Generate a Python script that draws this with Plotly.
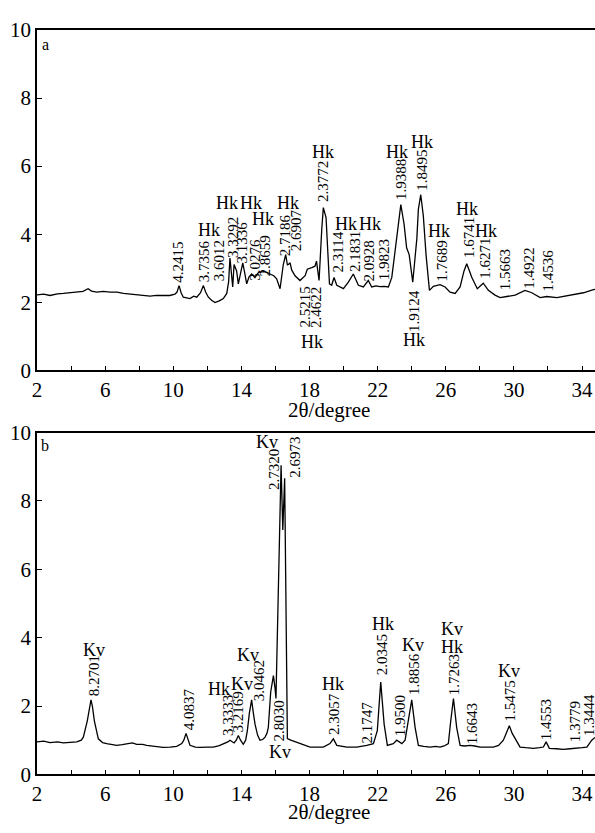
import plotly.graph_objects as go

# ---------------- data: panel a ----------------
a_x = [2.0, 2.4, 2.76, 3.2, 3.55, 4.0, 4.33, 4.7, 5.0, 5.2, 5.5, 5.9, 6.29, 6.7, 7.07, 7.5, 7.85,
       8.2, 8.64, 9.0, 9.42, 9.8, 10.1, 10.22, 10.34, 10.46, 10.59, 10.98, 11.2, 11.38, 11.6, 11.77,
       11.9, 12.06, 12.25, 12.45, 12.7, 12.94, 13.14, 13.25, 13.33, 13.41, 13.49, 13.57, 13.65, 13.72,
       13.82, 13.95, 14.08, 14.2, 14.31, 14.45, 14.6, 14.8, 15.0, 15.29, 15.5, 15.68, 15.9, 16.07,
       16.27, 16.46, 16.6, 16.7, 16.76, 16.86, 16.95, 17.15, 17.44, 17.74, 17.87, 18.13, 18.32, 18.41,
       18.56, 18.72, 18.81, 18.97, 19.17, 19.3, 19.44, 19.6, 19.99, 20.28, 20.57, 20.87, 21.16, 21.45,
       21.65, 21.9, 22.14, 22.4, 22.63, 22.83, 23.12, 23.36, 23.55, 23.7, 23.85, 24.06, 24.3, 24.39,
       24.53, 24.68, 24.84, 25.04, 25.27, 25.66, 25.96, 26.25, 26.55, 26.84, 27.07, 27.23, 27.53,
       27.85, 28.2, 28.5, 28.89, 29.19, 29.58, 30.07, 30.65, 31.05, 31.54, 31.93, 32.52, 33.3, 34.08,
       34.67, 34.76]
a_y = [2.22, 2.24, 2.2, 2.25, 2.26, 2.29, 2.3, 2.32, 2.4, 2.33, 2.3, 2.32, 2.3, 2.3, 2.26, 2.24, 2.21,
       2.2, 2.18, 2.2, 2.21, 2.2, 2.24, 2.3, 2.49, 2.28, 2.15, 2.11, 2.18, 2.15, 2.28, 2.49,
       2.3, 2.15, 2.06, 1.99, 2.04, 2.11, 2.26, 2.6, 3.3, 2.85, 2.45, 3.11, 3.0, 2.92,
       2.54, 2.9, 3.16, 2.85, 2.54, 2.75, 2.83, 2.73, 2.87, 2.9, 2.88, 2.83, 2.78, 2.69,
       2.4, 3.11, 3.4, 3.1, 3.11, 3.16, 2.95, 2.78, 2.64, 2.78, 2.97, 3.02, 3.06, 3.21,
       2.64, 4.16, 4.78, 4.49, 2.54, 2.5, 2.73, 2.5, 2.4, 2.59, 2.83, 2.5, 2.45, 2.64,
       2.45, 2.48, 2.46, 2.47, 2.45, 2.73, 3.87, 4.87, 4.3, 3.6, 3.4, 2.59, 3.87, 4.73,
       5.16, 4.54, 3.4, 2.35, 2.47, 2.52, 2.45, 2.3, 2.26, 2.45, 2.92, 3.13, 2.73,
       2.4, 2.56, 2.35, 2.21, 2.14, 2.17, 2.21, 2.35, 2.28, 2.14, 2.17, 2.14, 2.21, 2.28,
       2.37, 2.38]

# ---------------- data: panel b ----------------
b_x = [2.0, 2.4, 2.76, 3.2, 3.55, 4.0, 4.33, 4.6, 4.72, 4.95, 5.1, 5.17, 5.25, 5.37, 5.6, 5.85, 6.09,
       6.4, 6.68, 7.0, 7.27, 7.6, 7.85, 8.2, 8.44, 8.8, 9.03, 9.4, 9.81, 10.2, 10.5, 10.62, 10.75,
       10.86, 10.98, 11.3, 11.57, 12.0, 12.35, 12.7, 13.04, 13.2, 13.33, 13.45, 13.57, 13.7, 13.82,
       13.95, 14.11, 14.25, 14.35, 14.47, 14.6, 14.7, 14.8, 14.95, 15.09, 15.25, 15.39, 15.5, 15.58,
       15.72, 15.88, 15.98, 16.03, 16.33, 16.43, 16.54, 16.7, 16.9, 17.44, 18.03, 18.4, 18.81, 19.2,
       19.4, 19.6, 20.19, 20.77, 21.1, 21.36, 21.75, 21.98, 22.18, 22.38, 22.57, 22.92, 23.12, 23.25,
       23.42, 23.61, 23.86, 24.0, 24.2, 24.39, 24.7, 25.08, 25.4, 25.66, 25.9, 26.15, 26.29, 26.45,
       26.64, 26.84, 27.1, 27.43, 27.7, 28.01, 28.4, 28.79, 29.1, 29.38, 29.55, 29.73, 29.9, 30.07,
       30.36, 30.7, 31.14, 31.5, 31.73, 31.89, 32.08, 32.5, 32.9, 33.3, 33.69, 34.0, 34.28, 34.57,
       34.76]
b_y = [0.95, 0.97, 0.93, 0.95, 0.92, 0.93, 0.95, 1.0, 1.09, 1.56, 2.0, 2.18, 2.0, 1.56, 1.04, 0.93, 0.9,
       0.88, 0.85, 0.87, 0.9, 0.92, 0.88, 0.88, 0.85, 0.82, 0.8, 0.79, 0.8, 0.82, 0.9, 1.0, 1.2,
       1.0, 0.85, 0.8, 0.79, 0.8, 0.8, 0.84, 0.9, 0.95, 1.0, 0.95, 0.92, 1.0, 1.14,
       1.0, 0.88, 1.0, 1.28, 1.8, 2.18, 1.8, 1.47, 1.15, 1.0, 1.02, 1.09, 1.2, 1.37,
       2.41, 2.89, 2.5, 2.22, 9.04, 7.15, 8.66, 1.05, 1.0, 0.9, 0.8, 0.8, 0.8, 0.9,
       1.04, 0.85, 0.8, 0.8, 0.82, 0.85, 0.9, 1.28, 2.7, 1.47, 0.85, 0.9, 1.0, 0.95,
       0.9, 1.0, 1.75, 2.18, 1.37, 0.85, 0.82, 0.8, 0.82, 0.8, 0.83, 0.9, 1.56, 2.22,
       1.37, 0.85, 0.83, 0.85, 0.83, 0.8, 0.8, 0.8, 0.85, 1.0, 1.2, 1.42, 1.2, 1.04,
       0.8, 0.78, 0.76, 0.78, 0.8, 0.95, 0.76, 0.75, 0.73, 0.75, 0.76, 0.78, 0.8, 1.0,
       1.08]

# ---------------- labels ----------------
a_num_text = ["4.2415", "3.7356", "3.6012", "3.3292", "3.1336", "3.0276", "2.8659", "2.7186",
              "2.6907", "2.3772", "2.5215", "2.4622", "2.3114", "2.1831", "2.0928", "1.9823",
              "1.9388", "1.8495", "1.9124", "1.7689", "1.6741", "1.6271", "1.5663", "1.4922", "1.4536"]
a_num_x = [10.3, 11.77, 12.65, 13.47, 14.06, 14.8, 15.39, 16.56, 17.25, 18.78, 17.74, 18.42, 19.69,
           20.67, 21.51, 22.38, 23.41, 24.59, 24.14, 25.76, 27.33, 28.31, 29.48, 30.91, 32.02]
a_num_y = [3.17, 3.22, 3.22, 3.9, 3.77, 3.25, 3.35, 3.97, 4.11, 5.56, 1.85, 1.85, 3.47,
           3.48, 3.21, 3.24, 5.61, 5.89, 1.75, 3.22, 3.9, 3.28, 2.94, 3.0, 2.94]
a_phase_text = ["Hk"] * 15
a_phase_x = [12.12, 13.14, 14.55, 15.29, 16.76, 18.78, 18.13, 20.14, 21.55, 23.16, 24.59, 24.14,
             25.62, 27.23, 28.37]
a_phase_y = [4.11, 4.92, 4.92, 4.44, 4.92, 6.42, 0.83, 4.3, 4.3, 6.42, 6.7, 0.88, 4.08, 4.74, 4.08]

b_num_text = ["8.2701", "4.0837", "3.3333", "3.2169", "3.0462", "2.8030", "2.7320", "2.6973",
              "2.3057", "2.1747", "2.0345", "1.9500", "1.8856", "1.7263", "1.6643", "1.5475",
              "1.4553", "1.3779", "1.3444"]
b_num_x = [5.35, 10.89, 13.2, 13.82, 15.0, 16.23, 15.92, 17.15, 19.4, 21.4, 22.3, 23.31, 24.1,
           26.45, 27.58, 29.77, 31.89, 33.59, 34.45]
b_num_y = [2.87, 1.92, 1.73, 1.82, 2.74, 1.56, 8.91, 9.26, 1.78, 1.53, 3.51, 1.73, 2.95,
           2.91, 1.49, 2.13, 1.59, 1.53, 1.73]
b_phase_text = ["Kv", "Hk", "Kv", "Kv", "Kv", "Kv", "Hk", "Hk", "Kv", "Kv", "Hk", "Kv"]
b_phase_x = [5.35, 12.7, 14.02, 14.41, 16.27, 15.49, 19.36, 22.33, 24.1, 26.35, 26.39, 29.73]
b_phase_y = [3.64, 2.51, 2.65, 3.5, 0.66, 9.71, 2.65, 4.4, 3.79, 4.25, 3.72, 3.03]

x_ticks = list(range(2, 36, 2))
x_ticktext = [str(v) if (v - 2) % 4 == 0 else "" for v in x_ticks]
y_ticks = [0, 2, 4, 6, 8, 10]

FONT = "Liberation Serif, Times New Roman, serif"
W, H = 595, 833
ML = 37
PW = W - ML


def px_x(px):
    return (px - ML) / PW


def px_y(py):
    return 1 - py / H


fig = go.Figure()
fig.add_trace(go.Scatter(x=a_x, y=a_y, mode="lines", line=dict(color="black", width=1.3),
                         xaxis="x", yaxis="y", showlegend=False, hoverinfo="skip"))
fig.add_trace(go.Scatter(x=b_x, y=b_y, mode="lines", line=dict(color="black", width=1.3),
                         xaxis="x2", yaxis="y2", showlegend=False, hoverinfo="skip"))

axis_common = dict(showgrid=False, zeroline=False, showline=True, linecolor="black", linewidth=1.5,
                   ticks="inside", ticklen=5, tickcolor="black", tickwidth=1.2,
                   tickfont=dict(family=FONT, size=21, color="black"))

xr = [2, 34.76]
fig.update_layout(
    width=W, height=H,
    margin=dict(l=ML, r=0, t=0, b=0),
    paper_bgcolor="white", plot_bgcolor="white",
    font=dict(family=FONT, color="black"),
    xaxis=dict(domain=[0, 1], range=xr, anchor="y", tickvals=x_ticks, ticktext=x_ticktext,
               mirror=True, **axis_common),
    yaxis=dict(domain=[464 / H, 814.5 / H], range=[0, 10], anchor="x", tickvals=y_ticks,
               **axis_common),
    xaxis2=dict(domain=[0, 1], range=xr, anchor="y2", tickvals=x_ticks, ticktext=x_ticktext,
                mirror=True, **axis_common),
    yaxis2=dict(domain=[48 / H, 400 / H], range=[0, 10], anchor="x2", tickvals=y_ticks,
                **axis_common),
)

anns = []


def add_labels(texts, xs, ys, xref, yref, size, angle):
    for t, x, y in zip(texts, xs, ys):
        anns.append(dict(text=t, x=x, y=y, xref=xref, yref=yref, showarrow=False,
                         textangle=angle, xanchor="center", yanchor="middle",
                         font=dict(family=FONT, size=size, color="black")))


add_labels(a_num_text, a_num_x, a_num_y, "x", "y", 15, -90)
add_labels(a_phase_text, a_phase_x, a_phase_y, "x", "y", 18, 0)
add_labels(b_num_text, b_num_x, b_num_y, "x2", "y2", 15, -90)
add_labels(b_phase_text, b_phase_x, b_phase_y, "x2", "y2", 18, 0)

# panel letters
for letter, py in (("a", 33), ("b", 446)):
    anns.append(dict(text=letter, x=px_x(45), y=px_y(py), xref="paper", yref="paper",
                     showarrow=False, xanchor="center", yanchor="middle",
                     font=dict(family=FONT, size=16, color="black")))
# axis titles
for py in (410, 824):
    anns.append(dict(text="2θ/degree", x=px_x(329), y=px_y(py), xref="paper", yref="paper",
                     showarrow=False, xanchor="center", yanchor="middle",
                     font=dict(family=FONT, size=21, color="black")))

fig.update_layout(annotations=anns)
fig.write_html("out.html")
